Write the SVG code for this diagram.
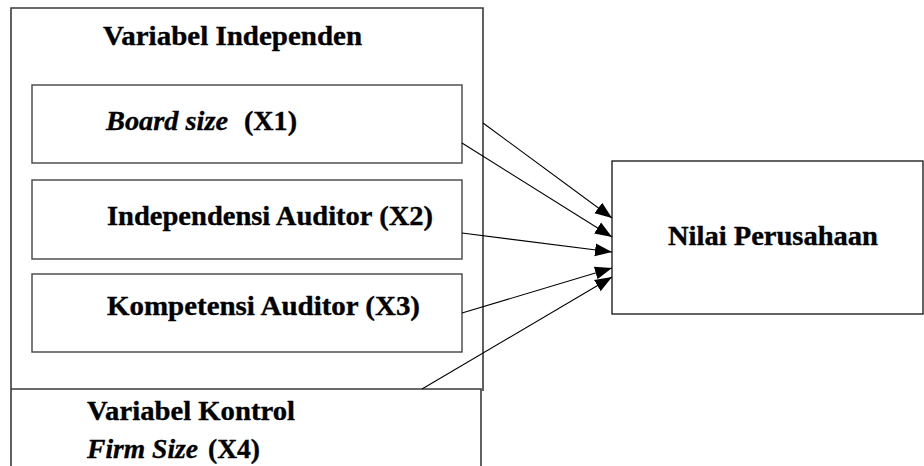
<svg xmlns="http://www.w3.org/2000/svg" width="924" height="466" viewBox="0 0 924 466">
  <style>
    .box { fill: #ffffff; stroke: #444444; stroke-width: 1.4; }
    .outer { fill: none; stroke: #3a3a3a; stroke-width: 1.6; }
    .target { fill: #ffffff; stroke: #111111; stroke-width: 1.3; }
    .lbl { font-family: 'Liberation Serif', 'Times New Roman', serif; font-size: 27px; font-weight: 700; fill: #000000; stroke: #000000; stroke-width: 0.35; }
    .it { font-style: italic; }
    .edge { stroke: #000000; stroke-width: 1.1; fill: none; marker-end: url(#head); }
  </style>
  <defs>
    <marker id="head" markerUnits="userSpaceOnUse" markerWidth="19" markerHeight="14" refX="17" refY="7" orient="auto">
      <path d="M0,0.5 L17,7 L0,13.5 Z" fill="#000000"/>
    </marker>
  </defs>
  <rect width="924" height="466" fill="#ffffff"/>

  <!-- independent variables container -->
  <g id="independen">
    <path class="outer" d="M11,466 L11,8 L483,8 L483,391"/>
    <text class="lbl" x="103" y="45" textLength="259" lengthAdjust="spacingAndGlyphs">Variabel Independen</text>
  </g>

  <g id="x1">
    <rect class="box" x="32" y="85" width="430" height="78"/>
    <text class="lbl it" x="106" y="130" textLength="122" lengthAdjust="spacingAndGlyphs">Board size</text>
    <text class="lbl" x="244" y="130" textLength="53" lengthAdjust="spacingAndGlyphs">(X1)</text>
  </g>

  <g id="x2">
    <rect class="box" x="32" y="180" width="430" height="79"/>
    <text class="lbl" x="107" y="225" textLength="326" lengthAdjust="spacingAndGlyphs">Independensi Auditor (X2)</text>
  </g>

  <g id="x3">
    <rect class="box" x="32" y="274" width="430" height="78"/>
    <text class="lbl" x="107" y="315" textLength="313" lengthAdjust="spacingAndGlyphs">Kompetensi Auditor (X3)</text>
  </g>

  <!-- control variable -->
  <g id="kontrol">
    <path class="outer" d="M11,389 L481,389 L481,466"/>
    <text class="lbl" x="87" y="420" textLength="208" lengthAdjust="spacingAndGlyphs">Variabel Kontrol</text>
    <text class="lbl it" x="87" y="458" textLength="111" lengthAdjust="spacingAndGlyphs">Firm Size</text>
    <text class="lbl" x="208" y="458" textLength="52" lengthAdjust="spacingAndGlyphs">(X4)</text>
  </g>

  <!-- dependent variable -->
  <g id="nilai">
    <rect class="target" x="612" y="161" width="311" height="153"/>
    <text class="lbl" x="668" y="245" textLength="210" lengthAdjust="spacingAndGlyphs">Nilai Perusahaan</text>
  </g>

  <g id="connectors">
    <line class="edge" x1="483" y1="123" x2="612" y2="218"/>
    <line class="edge" x1="462" y1="143" x2="612" y2="237"/>
    <line class="edge" x1="462" y1="233" x2="612" y2="252"/>
    <line class="edge" x1="462" y1="313" x2="612" y2="268"/>
    <line class="edge" x1="422" y1="389" x2="612" y2="277"/>
  </g>
</svg>
